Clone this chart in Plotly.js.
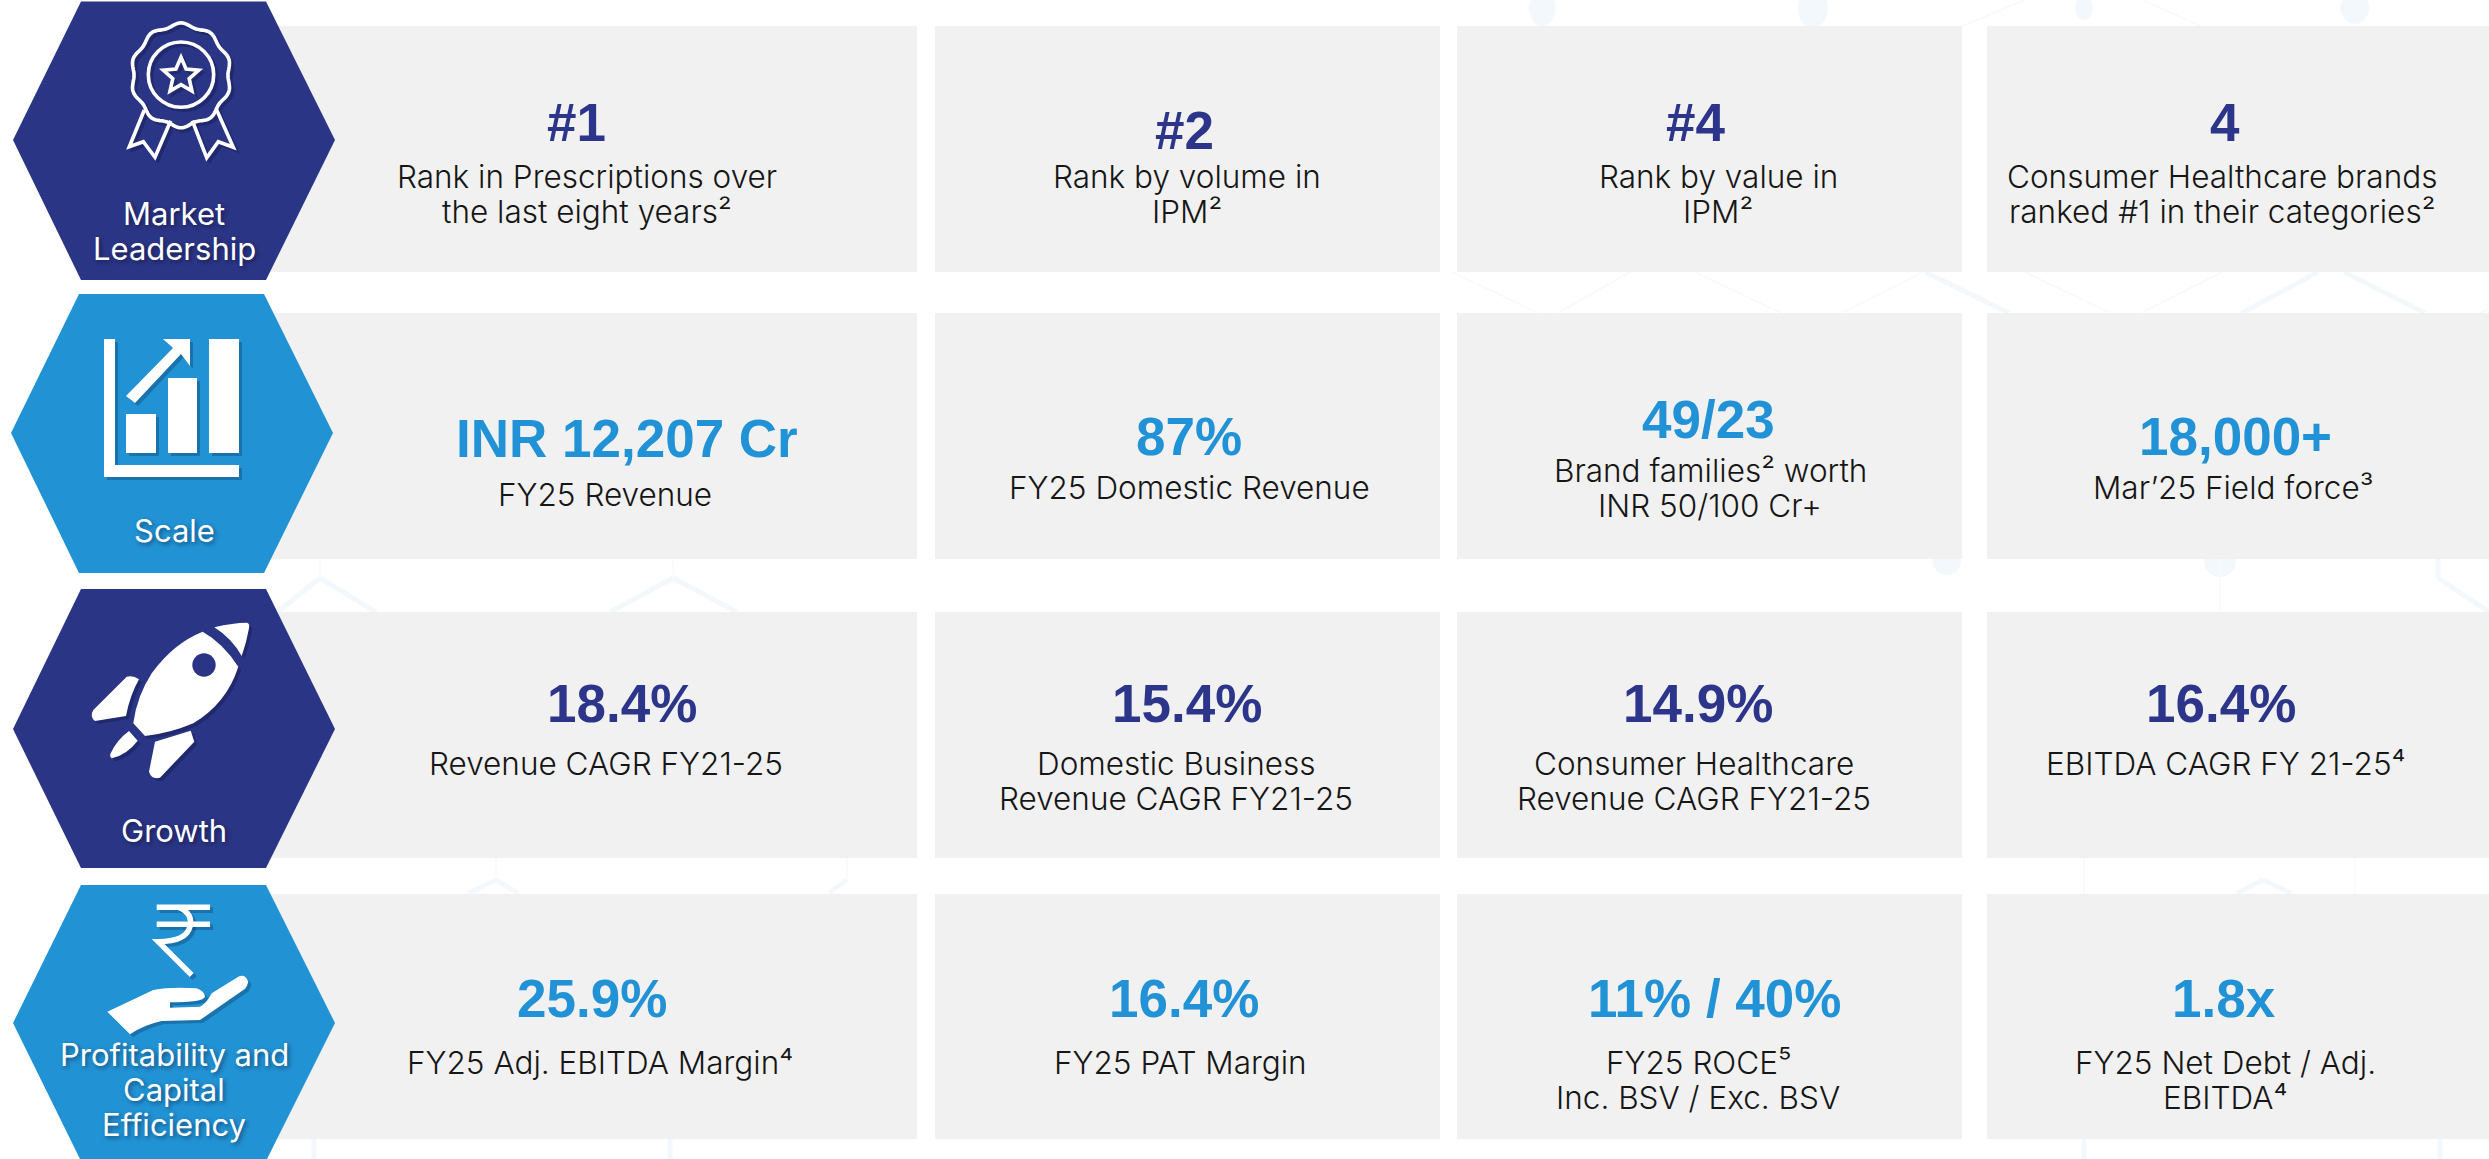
<!DOCTYPE html>
<html>
<head>
<meta charset="utf-8">
<script src="https://cdn.plot.ly/plotly-3.0.1.min.js"></script>
<style>html,body{margin:0;padding:0;background:#fff;overflow:hidden}</style>
</head>
<body>
<div id="chart"></div>
<script>
// ---------- content ----------
const categories = [["Market","Leadership"],["Scale"],["Growth"],["Profitability and","Capital","Efficiency"]];
const headlines = [
  ["#1","#2","#4","4"],
  ["INR 12,207 Cr","87%","49/23","18,000+"],
  ["18.4%","15.4%","14.9%","16.4%"],
  ["25.9%","16.4%","11% / 40%","1.8x"]
];
const descriptions = [
  [["Rank in Prescriptions over","the last eight years²"],["Rank by volume in","IPM²"],["Rank by value in","IPM²"],["Consumer Healthcare brands","ranked #1 in their categories²"]],
  [["FY25 Revenue"],["FY25 Domestic Revenue"],["Brand families² worth","INR 50/100 Cr+"],["Mar’25 Field force³"]],
  [["Revenue CAGR FY21-25"],["Domestic Business","Revenue CAGR FY21-25"],["Consumer Healthcare","Revenue CAGR FY21-25"],["EBITDA CAGR FY 21-25⁴"]],
  [["FY25 Adj. EBITDA Margin⁴"],["FY25 PAT Margin"],["FY25 ROCE⁵","Inc. BSV / Exc. BSV"],["FY25 Net Debt / Adj.","EBITDA⁴"]]
];

// ---------- layout geometry (page pixels) ----------
const NAVY="#2b3585", BLUE="#2192d4", CARD="#f1f1f1", INK="#161616";
const rowFill=[NAVY,BLUE,NAVY,BLUE];
const colX=[[200,917],[935,1440],[1457,1962],[1987,2489]];
const rowY=[[26,272],[313,559],[612,858],[894,1139]];
const hexes=[[81,266,335,13,1.5,140,280],[79,264,333,11,294,433,573],[81,266,335,13,589,729,868],[81,266,335,13,885,1023,1161]];
const headX=[[576,1184,1695,2225],[627,1189,1708,2235],[622,1187,1698,2221],[592,1184,1714,2224]];
const headY=[[122,130,122,122],[438,436,419,436],[703,703,703,703],[998,998,998,998]];
const descX=[[587,1187,1718,2222],[605,1189,1710,2233],[606,1176,1694,2225],[600,1180,1698,2225]];
const descY=[[176,176,176,176],[494,487,470,487],[763,763,763,763],[1062,1062,1062,1062]];
const catY=[[213,248],[530],[830],[1054,1089,1124]];
const PITCH=35;
const SANS="Inter, 'Open Sans', sans-serif", HEAD="'Liberation Sans', Arial, sans-serif";

// faint hexagon network behind the cards
const netThin=[[1452,272,1538,313],[1630,272,1558,313],[1695,272,1781,313],[1923,272,1842,313],
  [2025,272,2110,313],[2222,272,2141,313],[2567,272,2480,313],[2220,559,2220,612],[2084,858,2084,894],[2355,858,2355,894],
  [496,858,496,882],[847,858,847,880],[320,559,320,575],[673,559,673,575],[2025,0,1962,26],[2143,0,2200,26]];
const netThick=[[1925,272,2009,313],[2318,272,2242,313],[2344,272,2425,313],[277,612,320,578],[320,578,376,612],
  [610,612,673,578],[673,578,737,612],[2438,559,2438,578],[2438,578,2489,612],[468,893,496,880],[496,880,518,893],
  [829,893,847,880],[2237,893,2263,880],[2263,880,2291,893],[2084,1139,2084,1159],[2440,1139,2440,1159],[314,1139,314,1159],[670,1139,670,1159]];
const netNodes=[[1542,8,13,18],[1813,8,15,20],[2084,8,9,12],[2355,8,14,16],[1947,562,14,13],[2220,562,16,15]];
function netXY(segs){const x=[],y=[];segs.forEach(s=>{x.push(s[0],s[2],null);y.push(s[1],s[3],null)});return {x,y}}

// ---------- shape helpers ----------
const shapes=[];
netNodes.forEach(n=>shapes.push({type:"circle",layer:"below",xref:"x",yref:"y",x0:n[0]-n[2],x1:n[0]+n[2],y0:n[1]-n[3],y1:n[1]+n[3],fillcolor:"#f3f8fd",line:{width:0}}));
function rect(x0,x1,y0,y1,fill){shapes.push({type:"rect",layer:"above",xref:"x",yref:"y",x0,x1,y0,y1,fillcolor:fill,line:{width:0}})}
function path(d,fill,lw,color){shapes.push({type:"path",layer:"above",xref:"x",yref:"y",path:d,fillcolor:fill||"rgba(0,0,0,0)",line:{width:lw||0,color:color||"rgba(0,0,0,0)"}})}
// rewrite a path given in zoom-crop coordinates into page coordinates
function mapPath(d,ox,oy,s,dx,dy){let i=0;return d.replace(/-?\d+(\.\d+)?/g,m=>{const v=parseFloat(m);const r=(i%2===0)?(v/s+ox+dx):(v/s+oy+dy);i++;return r.toFixed(1)})}
function icon(parts,ox,oy,s,bg){
  [[3,3,"rgba(0,0,30,0.22)"],[0,0,"#ffffff"]].forEach(([dx,dy,c])=>{
    parts.forEach(p=>{
      const d=mapPath(p.d,ox,oy,s,dx,dy);
      if(p.hole){ if(dx===0) path(d,bg); }
      else if(p.stroke) path(d,null,p.stroke,c);
      else path(d,c);
    });
  });
}

// cards
rowY.forEach(r=>colX.forEach(c=>rect(c[0],c[1],r[0],r[1],CARD)));
// hexagons
hexes.forEach((h,i)=>{
  path(`M ${h[0]},${h[4]} L ${h[1]},${h[4]} L ${h[2]},${h[5]} L ${h[1]},${h[6]} L ${h[0]},${h[6]} L ${h[3]},${h[5]} Z`,rowFill[i]);
});

// medal
function scallop(cx,cy,rx,ry,amp,n){let d="";for(let k=0;k<=180;k++){const t=k/180*2*Math.PI;const f=1+amp*Math.cos(n*t);d+=(k?"L":"M")+" "+(cx+rx*f*Math.sin(t)).toFixed(1)+","+(cy-ry*f*Math.cos(t)).toFixed(1)+" "}return d+"Z"}
function star(cx,cy,R,r){let d="";for(let k=0;k<10;k++){const t=k*Math.PI/5;const q=k%2?r:R;d+=(k?"L":"M")+" "+(cx+q*Math.sin(t)).toFixed(1)+","+(cy-q*Math.cos(t)).toFixed(1)+" "}return d+"Z"}
function ring(cx,cy,r){const c=0.5523*r;return `M ${cx-r},${cy} C ${cx-r},${cy-c} ${cx-c},${cy-r} ${cx},${cy-r} C ${cx+c},${cy-r} ${cx+r},${cy-c} ${cx+r},${cy} C ${cx+r},${cy+c} ${cx+c},${cy+r} ${cx},${cy+r} C ${cx-c},${cy+r} ${cx-r},${cy+c} ${cx-r},${cy} Z`}
icon([
  {d:scallop(243,196,146,152,0.035,10),stroke:3.6},
  {d:ring(243,194,98),stroke:3.6},
  {d:star(243,198,56,26),stroke:3.6},
  {d:"M 133,300 L 88,410 L 130,395 L 165,442 L 212,332",stroke:3.6},
  {d:"M 350,300 L 400,412 L 355,395 L 320,443 L 277,332",stroke:3.6}
],100,10,3,NAVY);

// bar-chart icon (page coordinates, scale 1)
icon([
  {d:"M 104,339 L 115,339 L 115,465 L 239,465 L 239,477 L 104,477 Z"},
  {d:"M 126,414 L 156,414 L 156,453 L 126,453 Z"},
  {d:"M 168,378 L 197,378 L 197,453 L 168,453 Z"},
  {d:"M 209,339 L 239,339 L 239,453 L 209,453 Z"},
  {d:"M 163,339 L 190,339 L 190,366 L 181,354 L 135,403 L 126,396 L 173,348 Z"}
],0,0,1,BLUE);

// rocket
icon([
  {d:"M 368,65 Q 430,100 475,170 Q 440,280 340,340 Q 270,370 195,378 L 160,340 Q 170,260 215,190 Q 280,100 368,65 Z"},
  {d:ring(372,165,35),hole:true},
  {d:"M 403,52 Q 460,38 500,38 Q 510,40 507,55 Q 500,95 485,138 Q 455,85 403,52 Z"},
  {d:"M 177,208 Q 160,195 140,200 L 40,300 Q 28,320 45,333 L 138,318 Q 150,255 177,208 Z"},
  {d:"M 225,395 L 332,362 L 343,395 L 240,503 Q 215,510 207,485 Z"},
  {d:"M 147,363 L 173,392 Q 140,435 95,445 Q 88,440 92,430 Q 110,390 147,363 Z"}
],80,610,3,NAVY);

// rupee and hand
icon([
  {d:"M 200,37 L 360,37",stroke:5.5},
  {d:"M 200,88 L 360,88",stroke:5.5},
  {d:"M 265,37 Q 310,55 300,95 Q 288,140 205,140 L 305,240",stroke:5.5},
  {d:"M 52,350 L 190,285 Q 240,275 320,280 Q 345,290 345,305 Q 340,322 240,322 L 240,338 L 330,335 Q 350,325 365,295 L 445,245 Q 465,235 475,260 Q 470,280 460,285 L 330,375 L 215,378 Q 160,390 120,418 Z"}
],90,895,3,BLUE);

// ---------- text ----------
const annotations=[];
function label(text,x,y,size,color,family,weight,shadow){
  const font={size,color,family,weight};
  if(shadow) font.shadow=shadow;
  annotations.push({text,x,y,xref:"x",yref:"y",showarrow:false,xanchor:"center",yanchor:"middle",align:"center",font});
}
categories.forEach((lines,i)=>lines.forEach((t,j)=>label(t,174,catY[i][j],31,"#ffffff",SANS,400,"2px 2px 4px rgba(0,0,30,0.45)")));
headlines.forEach((row,i)=>row.forEach((t,j)=>label(t,headX[i][j],headY[i][j],53,rowFill[i]==NAVY?"#2c3589":"#2192d6",HEAD,700)));
descriptions.forEach((row,i)=>row.forEach((lines,j)=>lines.forEach((t,k)=>label(t,descX[i][j],descY[i][j]+k*PITCH,31.5,INK,SANS,300))));

const a=netXY(netThin), b=netXY(netThick);
const traces=[
  {type:"scatter",mode:"lines",x:a.x,y:a.y,line:{color:"#f7fafd",width:1.5},hoverinfo:"skip",showlegend:false},
  {type:"scatter",mode:"lines",x:b.x,y:b.y,line:{color:"#f3f8fd",width:5},hoverinfo:"skip",showlegend:false}
];
Plotly.newPlot("chart",traces,{
  width:2489,height:1159,autosize:false,
  margin:{l:0,r:0,t:0,b:0,pad:0},
  paper_bgcolor:"#ffffff",plot_bgcolor:"#ffffff",
  showlegend:false,
  xaxis:{range:[0,2489],visible:false,fixedrange:true},
  yaxis:{range:[1159,0],visible:false,fixedrange:true},
  shapes,annotations
},{displayModeBar:false,staticPlot:true});
</script>
</body>
</html>
